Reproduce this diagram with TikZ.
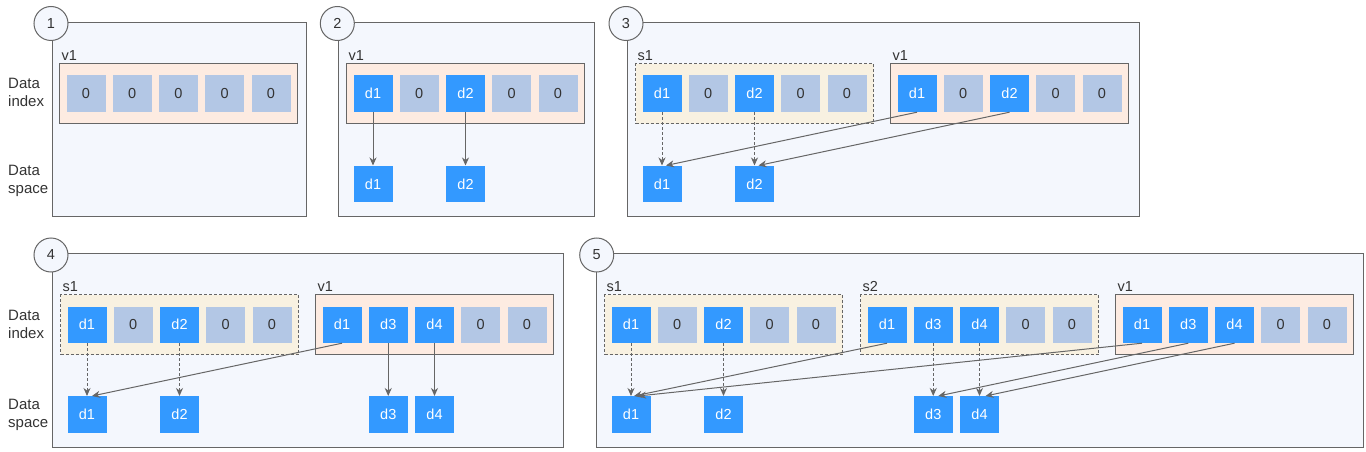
\documentclass[tikz,border=0pt]{standalone}
\usepackage{fontspec}
\setmainfont{Liberation Sans}
\usetikzlibrary{arrows.meta}
\definecolor{stroke}{HTML}{666666}
\definecolor{txt}{HTML}{333333}
\definecolor{framefill}{HTML}{F4F7FD}
\definecolor{vfill}{HTML}{FDEBE1}
\definecolor{sfill}{HTML}{F8F1E1}
\definecolor{cb}{HTML}{3399FF}
\definecolor{cg}{HTML}{B3C7E5}
\definecolor{tb}{HTML}{FFFFFF}
\definecolor{tg}{HTML}{333333}
\tikzset{
  x=1pt, y=-1pt,
  txtfont/.style={font=\fontsize{14.5}{18}\selectfont},
  frame/.style={draw=stroke, fill=framefill, line width=1pt, anchor=north west, inner sep=0pt},
  badge/.style={circle, draw=stroke, fill=framefill, line width=1pt, minimum size=34pt, inner sep=0pt, txtfont, text=txt},
  vbox/.style={draw=stroke, fill=vfill, line width=1pt, minimum width=238pt, minimum height=60pt, anchor=north west, inner sep=0pt},
  sbox/.style={vbox, fill=sfill, dash pattern=on 3pt off 2pt},
  cell/.style={minimum width=39pt, minimum height=36.5pt, inner sep=0pt, anchor=north west, txtfont},
  datacell/.style={cell, fill=cb, text=white},
  lbl/.style={anchor=base west, inner sep=0pt, txtfont, text=txt},
  side/.style={align=left, anchor=west, inner sep=0pt, font=\fontsize{15}{18}\selectfont, text=txt},
  link/.style={draw=stroke, line width=1pt, -{Stealth[length=8pt,width=7pt,inset=2.5pt]}},
  dlink/.style={link, dash pattern=on 3pt off 2pt},
}
% #1 name, #2 x, #3 y, #4 style, #5 label, #6 cells
\newcommand\indexrow[6]{%
  \node[#4] (#1) at (#2,#3) {};
  \node[lbl] (#1-lab) at ([xshift=2pt,yshift=3pt]#1.north west) {#5};
  \foreach \t/\l [count=\i] in {#6} {
    \node[cell, fill=c\t, text=t\t] (#1-\i) at ([xshift={7+(\i-1)*46.25}, yshift=-12pt]#1.north west) {\l};
  }%
}
\begin{document}
\begin{tikzpicture}
\useasboundingbox (0,0) rectangle (1366,452);
% ---------- frames ----------
\node[frame, minimum width=254pt, minimum height=193.7pt] (f1) at (52,22.3) {};
\node[frame, minimum width=256pt, minimum height=193.7pt] (f2) at (338.3,22.3) {};
\node[frame, minimum width=511.7pt, minimum height=193.7pt] (f3) at (627.3,22.3) {};
\node[frame, minimum width=511pt, minimum height=194pt] (f4) at (52.3,253.3) {};
\node[frame, minimum width=767pt, minimum height=194pt] (f5) at (596.3,253.3) {};
\node[badge] (b1) at (51,23.5) {1};
\node[badge] (b2) at (337.3,23.5) {2};
\node[badge] (b3) at (626,23.5) {3};
\node[badge] (b4) at (51,255) {4};
\node[badge] (b5) at (596.7,255) {5};
% side labels
\node[side] (l1a) at (8,92.5) {Data\\index};
\node[side] (l1b) at (8,180.5) {Data\\space};
\node[side] (l4a) at (8,324) {Data\\index};
\node[side] (l4b) at (8,415) {Data\\space};
% ---------- panel 1 ----------
\indexrow{p1v}{59.3}{63.3}{vbox}{v1}{g/0,g/0,g/0,g/0,g/0}
% ---------- panel 2 ----------
\indexrow{p2v}{346.3}{63.3}{vbox}{v1}{b/d1,g/0,b/d2,g/0,g/0}
\node[datacell] (p2d1) at (p2v-1.north west |- 0,165.5) {d1};
\node[datacell] (p2d2) at (p2v-3.north west |- 0,165.5) {d2};
\draw[link] (p2v-1.south) -- (p2d1.north);
\draw[link] (p2v-3.south) -- (p2d2.north);
% ---------- panel 3 ----------
\indexrow{p3s}{635.3}{63.3}{sbox}{s1}{b/d1,g/0,b/d2,g/0,g/0}
\indexrow{p3v}{890.3}{63.3}{vbox}{v1}{b/d1,g/0,b/d2,g/0,g/0}
\node[datacell] (p3d1) at (p3s-1.north west |- 0,165.5) {d1};
\node[datacell] (p3d2) at (p3s-3.north west |- 0,165.5) {d2};
\draw[dlink] (p3s-1.south) -- (p3d1.north);
\draw[dlink] (p3s-3.south) -- (p3d2.north);
\draw[link] (p3v-1.south) -- ([xshift=4pt]p3d1.north);
\draw[link] (p3v-3.south) -- ([xshift=4pt]p3d2.north);
% ---------- panel 4 ----------
\indexrow{p4s}{60.3}{294.3}{sbox}{s1}{b/d1,g/0,b/d2,g/0,g/0}
\indexrow{p4v}{315.3}{294.3}{vbox}{v1}{b/d1,b/d3,b/d4,g/0,g/0}
\node[datacell] (p4d1) at (p4s-1.north west |- 0,396) {d1};
\node[datacell] (p4d2) at (p4s-3.north west |- 0,396) {d2};
\node[datacell] (p4d3) at (p4v-2.north west |- 0,396) {d3};
\node[datacell] (p4d4) at (p4v-3.north west |- 0,396) {d4};
\draw[dlink] (p4s-1.south) -- (p4d1.north);
\draw[dlink] (p4s-3.south) -- (p4d2.north);
\draw[link] (p4v-1.south) -- ([xshift=5pt]p4d1.north);
\draw[link] (p4v-2.south) -- (p4d3.north);
\draw[link] (p4v-3.south) -- (p4d4.north);
% ---------- panel 5 ----------
\indexrow{p5s}{604.3}{294.3}{sbox}{s1}{b/d1,g/0,b/d2,g/0,g/0}
\indexrow{p5t}{860.3}{294.3}{sbox}{s2}{b/d1,b/d3,b/d4,g/0,g/0}
\indexrow{p5v}{1115.3}{294.3}{vbox}{v1}{b/d1,b/d3,b/d4,g/0,g/0}
\node[datacell] (p5d1) at (p5s-1.north west |- 0,396) {d1};
\node[datacell] (p5d2) at (p5s-3.north west |- 0,396) {d2};
\node[datacell] (p5d3) at (p5t-2.north west |- 0,396) {d3};
\node[datacell] (p5d4) at (p5t-3.north west |- 0,396) {d4};
\draw[dlink] (p5s-1.south) -- (p5d1.north);
\draw[dlink] (p5s-3.south) -- (p5d2.north);
\draw[dlink] (p5t-2.south) -- (p5d3.north);
\draw[dlink] (p5t-3.south) -- (p5d4.north);
\draw[link] (p5t-1.south) -- ([xshift=3pt]p5d1.north);
\draw[link] (p5v-1.south) -- ([xshift=7pt]p5d1.north);
\draw[link] (p5v-2.south) -- ([xshift=5pt]p5d3.north);
\draw[link] (p5v-3.south) -- ([xshift=6pt]p5d4.north);
\end{tikzpicture}
\end{document}
